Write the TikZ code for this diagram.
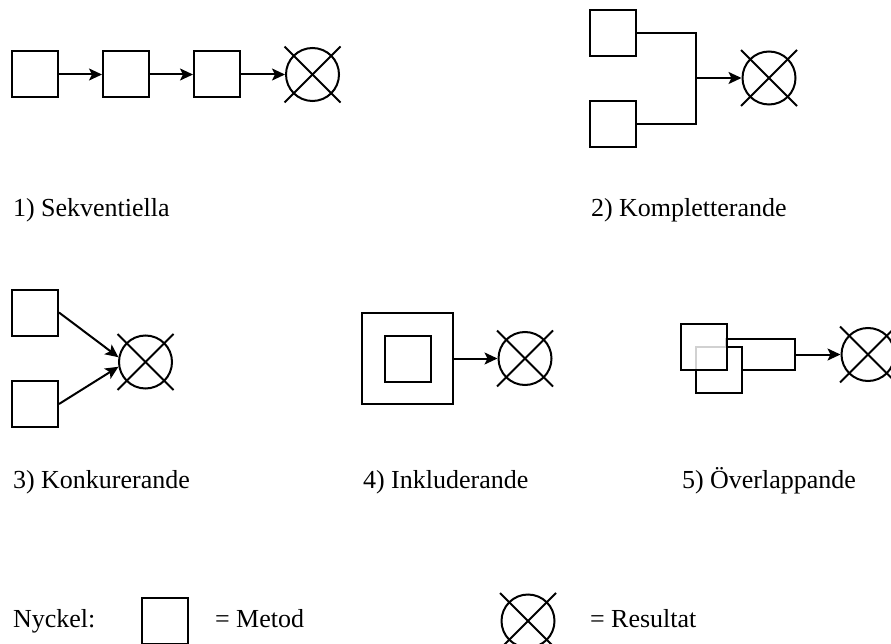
\documentclass[tikz,border=0pt]{standalone}
\usepackage{fontspec}
\setmainfont{Liberation Serif}
\usetikzlibrary{arrows.meta}

% result symbol: circle with a cross through it
\newcommand{\resultat}[2]{%
  \node[res] (#1) at (#2) {};
  \draw ([shift={(-28,-28)}]#1.center) -- ([shift={(28,28)}]#1.center);
  \draw ([shift={(-28,28)}]#1.center) -- ([shift={(28,-28)}]#1.center);
}

\begin{document}
\begin{tikzpicture}[x=1pt, y=-1pt, line width=2pt,
    metod/.style={draw, fill=white, inner sep=0pt, minimum size=46pt},
    res/.style={draw, circle, inner sep=0pt, minimum size=53pt},
    pil/.style={-{Stealth[length=13pt, width=12pt, inset=3pt]}},
    txt/.style={anchor=base west, inner sep=0pt, font=\fontsize{26}{30}\selectfont}]
  \useasboundingbox (0,0) rectangle (891,644);

  % 1) sequential
  \node[metod] (s1) at (35,74.5) {};
  \node[metod] (s2) at (126,74.5) {};
  \node[metod] (s3) at (217,74.5) {};
  \resultat{r1}{312.5,74.5}
  \draw[pil] (s1) -- (s2);
  \draw[pil] (s2) -- (s3);
  \draw[pil] (s3) -- (r1);
  \node[txt] (l1) at (12,217) {1) Sekventiella};

  % 2) complementary
  \node[metod] (k1) at (613,33.5) {};
  \node[metod] (k2) at (613,124.5) {};
  \coordinate (kj) at (696,78);
  \resultat{r2}{769,78}
  \draw (k1.east) -| (kj) |- (k2.east);
  \draw[pil] (kj) -- (r2);
  \node[txt] (l2) at (590,217) {2) Kompletterande};

  % 3) concurrent
  \node[metod] (c1) at (35,312.5) {};
  \node[metod] (c2) at (35,404) {};
  \resultat{r3}{145.5,362}
  \draw[pil] (c1.east) -- (r3.170);
  \draw[pil] (c2.east) -- (r3.190);
  \node[txt] (l3) at (12,488) {3) Konkurerande};

  % 4) including
  \node[metod, minimum size=91pt] (i1) at (407.5,358.5) {};
  \node[metod] (i2) at (407.5,358.5) {};
  \resultat{r4}{525,358.5}
  \draw[pil] (i1) -- (r4);
  \node[txt] (l4) at (362,488) {4) Inkluderande};

  % 5) overlapping
  \node[metod, minimum width=69pt, minimum height=31pt] (o3) at (760.5,354.5) {};
  \node[metod] (o2) at (719,369.5) {};
  \node[metod, fill opacity=0.82] (o1) at (704,347) {};
  \resultat{r5}{868,354.5}
  \draw[pil] (o3) -- (r5);
  \node[txt] (l5) at (681,488) {5) Överlappande};

  % key
  \node[txt] (n0) at (12,627) {Nyckel:};
  \node[metod] (n1) at (165,621) {};
  \node[txt] (n2) at (214,627) {= Metod};
  \resultat{n3}{528,621}
  \node[txt] (n4) at (589,627) {= Resultat};
\end{tikzpicture}
\end{document}
